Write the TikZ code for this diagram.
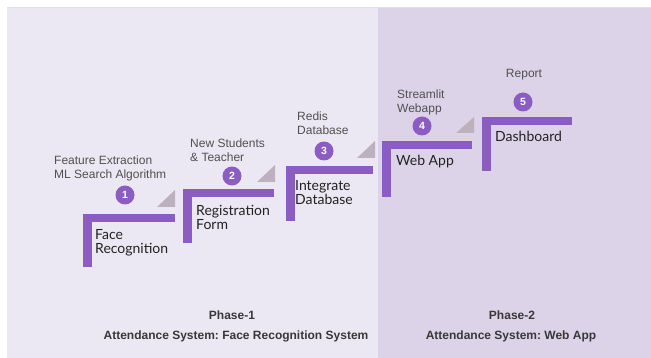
\documentclass[tikz,border=0pt]{standalone}
\usepackage{fontspec}
\setmainfont{Liberation Sans}
\newfontfamily\stepfont{Lato}
\frenchspacing
\definecolor{bgone}{HTML}{ECE8F3}
\definecolor{bgtwo}{HTML}{DDD3E8}
\definecolor{stepviolet}{HTML}{8B5CC2}
\definecolor{trigray}{HTML}{BCB1BC}
\definecolor{labelgray}{HTML}{505050}
\definecolor{darktext}{HTML}{222222}
\tikzset{
  stepbar/.style={fill=stepviolet, draw=none},
  stepcorner/.style={fill=trigray, draw=none},
  numdot/.style={circle, fill=stepviolet, inner sep=0pt, minimum size=19pt, text=white, font=\fontsize{10.5}{10.5}\selectfont\bfseries},
  smalllabel/.style={anchor=north west, align=left, inner sep=0pt, text=labelgray, font=\fontsize{12}{13.5}\selectfont},
  steplabel/.style={anchor=north west, align=left, inner sep=0pt, text=darktext, font=\stepfont\fontsize{14}{14}\selectfont},
  phaselabel/.style={inner sep=0pt, text=darktext!90, font=\fontsize{12}{12}\selectfont\bfseries}
}
\newcommand{\stepshape}[4]{%
  % #1 left, #2 top, #3 right, #4 bottom
  \fill[stepbar] (#1,#2) rectangle (#3,#2+8.5);
  \fill[stepbar] (#1,#2) rectangle (#1+8.5,#4);
}
\begin{document}
\begin{tikzpicture}[x=1pt,y=-1pt]
\useasboundingbox (0,0) rectangle (651,358);
\fill[white] (0,0) rectangle (651,358);
\fill[bgone] (7,7) rectangle (378,358);
\fill[bgtwo] (378,7) rectangle (651,358);
\draw[black!12, line width=0.8pt] (7,7) -- (651,7);

% steps
\stepshape{83}{214}{175}{267}
\stepshape{183}{189}{274}{243}
\stepshape{286}{166}{373}{221}
\stepshape{382}{141}{472}{197}
\stepshape{482}{117}{572}{171}

% corner triangles
\fill[stepcorner] (157,207) -- (175,207) -- (175,190) -- cycle;
\fill[stepcorner] (257,182) -- (275,182) -- (275,165) -- cycle;
\fill[stepcorner] (357,158) -- (375,158) -- (375,141) -- cycle;
\fill[stepcorner] (456,133) -- (474,133) -- (474,117) -- cycle;

% number dots
\node[numdot] (n1) at (125,195) {1};
\node[numdot] (n2) at (232,176) {2};
\node[numdot] (n3) at (324,151) {3};
\node[numdot] (n4) at (422,126) {4};
\node[numdot] (n5) at (523,102) {5};

% upper labels
\node[smalllabel] (l1) at (54,156) {Feature Extraction\\ML Search Algorithm};
\node[smalllabel] (l2) at (190,139) {New Students\\\& Teacher};
\node[smalllabel] (l3) at (297,112) {Redis\\Database};
\node[smalllabel] (l4) at (397,90) {Streamlit\\Webapp};
\node[smalllabel, anchor=north] (l5) at (524,69) {Report};

% step labels
\node[steplabel] (s1) at (95,229.5) {Face\\Recognition};
\node[steplabel] (s2) at (196,205) {Registration\\Form};
\node[steplabel] (s3) at (295,180.5) {Integrate\\Database};
\node[steplabel] (s4) at (396,155) {Web App};
\node[steplabel] (s5) at (495,131) {Dashboard};

% phase labels
\node[phaselabel] (p1) at (232,315) {Phase-1};
\node[phaselabel] (p1b) at (236,336) {Attendance System: Face Recognition System};
\node[phaselabel] (p2) at (512,315) {Phase-2};
\node[phaselabel] (p2b) at (511,336) {Attendance System: Web App};
\end{tikzpicture}
\end{document}
